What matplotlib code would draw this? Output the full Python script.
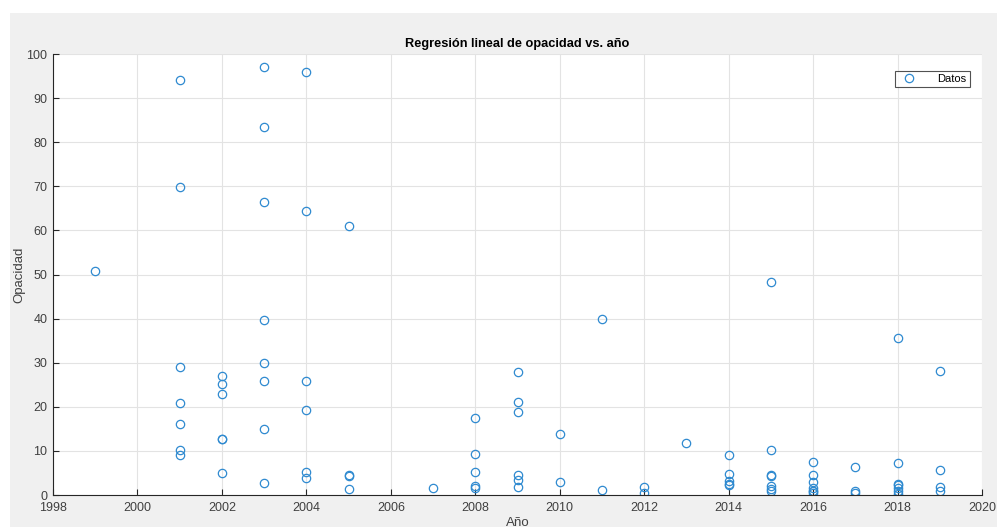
import matplotlib
matplotlib.use("Agg")
import matplotlib.pyplot as plt
from matplotlib.patches import Rectangle

plt.rcParams['font.family'] = ['Liberation Sans', 'DejaVu Sans']

years = [1999,
         2001, 2001, 2001, 2001, 2001, 2001, 2001,
         2002, 2002, 2002, 2002, 2002, 2002,
         2003, 2003, 2003, 2003, 2003, 2003, 2003, 2003,
         2004, 2004, 2004, 2004, 2004, 2004,
         2005, 2005, 2005, 2005,
         2007,
         2008, 2008, 2008, 2008, 2008,
         2009, 2009, 2009, 2009, 2009, 2009,
         2010, 2010,
         2011, 2011,
         2012, 2012,
         2013,
         2014, 2014, 2014, 2014, 2014,
         2015, 2015, 2015, 2015, 2015, 2015, 2015,
         2016, 2016, 2016, 2016, 2016, 2016, 2016,
         2017, 2017, 2017,
         2018, 2018, 2018, 2018, 2018, 2018, 2018,
         2019, 2019, 2019, 2019]
opacity = [50.8,
           94.1, 69.8, 29.0, 20.9, 16.2, 10.3, 9.1,
           27.1, 25.2, 23.0, 12.7, 12.6, 5.0,
           97.0, 83.5, 66.4, 39.6, 29.9, 25.8, 15.0, 2.7,
           96.0, 64.3, 25.8, 19.2, 5.2, 3.8,
           60.9, 4.5, 4.3, 1.3,
           1.6,
           17.5, 9.3, 5.2, 2.0, 1.6,
           27.9, 21.2, 18.8, 4.5, 3.5, 1.9,
           13.9, 3.0,
           40.0, 1.2,
           1.9, 0.5,
           11.9,
           9.1, 4.8, 3.2, 2.6, 2.2,
           48.2, 10.3, 4.6, 4.3, 2.0, 1.4, 0.8,
           7.5, 4.5, 3.0, 1.5, 1.0, 0.8, 0.5,
           6.3, 1.0, 0.4,
           35.7, 7.2, 2.6, 2.2, 1.6, 0.8, 0.3,
           28.2, 5.7, 1.8, 1.0]

xticks = list(range(1998, 2021, 2))
yticks = list(range(0, 101, 10))

fig = plt.figure(figsize=(9.97, 5.27), dpi=100, facecolor='white')
# grey MATLAB figure panel (white margin on top and left)
panel = Rectangle((10 / 997, 0), 1 - 10 / 997, 1 - 13 / 527,
                  transform=fig.transFigure, facecolor='#f0f0f0',
                  edgecolor='none', zorder=-10)
fig.add_artist(panel)
ax = fig.add_axes([0.0532, 0.0607, 0.9318, 0.8368])
ax.set_zorder(1)
ax.set_facecolor('white')

ax.plot(years, opacity, linestyle='none', marker='o', markersize=6.0,
        markerfacecolor='none', markeredgecolor='#2f8ad0', markeredgewidth=0.9,
        label='Datos')

ax.set_xlim(1998, 2020)
ax.set_ylim(0, 100)
ax.set_xticks(xticks)
ax.set_yticks(yticks)
ax.grid(True, color='#e3e3e3', linewidth=0.8)
ax.set_axisbelow(True)
for s in ['top', 'right']:
    ax.spines[s].set_visible(False)
for s in ['left', 'bottom']:
    ax.spines[s].set_color('#262626')
    ax.spines[s].set_linewidth(0.8)
ax.tick_params(direction='in', length=4, width=0.8, colors='#262626',
               labelsize=9, labelcolor='#404040', pad=4)
ax.tick_params(axis='x', pad=5)

ax.set_title('Regresión lineal de opacidad vs. año', fontsize=9.2,
             fontweight='bold', color='black', pad=5)
ax.set_xlabel('Año', fontsize=9.5, color='#404040', labelpad=2)
ax.set_ylabel('Opacidad', fontsize=9.5, color='#404040', labelpad=1)

leg = ax.legend(loc='upper right', fontsize=8, frameon=True, fancybox=False,
                edgecolor='#262626', borderpad=0.25, handletextpad=1.6,
                bbox_to_anchor=(0.9925, 0.973))
leg.get_frame().set_linewidth(0.8)

fig.savefig('out.png', dpi=100, facecolor=fig.get_facecolor())
